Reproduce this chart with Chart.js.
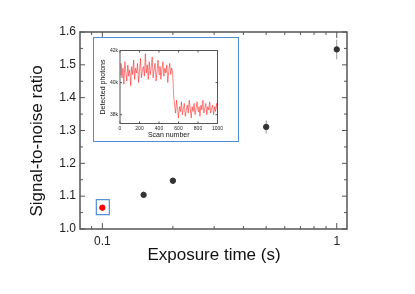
<!DOCTYPE html>
<html>
<head>
<meta charset="utf-8">
<script src="https://cdn.jsdelivr.net/npm/chart.js@4"></script>
<style>
  html, body { margin: 0; padding: 0; background: #fff; }
  #wrap { position: relative; width: 415px; height: 294px; }
  #insetBox {
    position: absolute; left: 93px; top: 37px; width: 146px; height: 105px;
    border: 1.5px solid #4f8ddc; background: #fff; box-sizing: border-box;
  }
  #insetChart { position: absolute; left: -1.5px; top: -1.5px; }
</style>
</head>
<body>
<div id="wrap">
  <canvas id="mainChart" width="415" height="294"></canvas>
  <div id="insetBox"><canvas id="insetChart" width="146" height="105"></canvas></div>
</div>
<script>
// main chart data
const exposures = [0.15, 0.2, 0.5, 1.0];
const snr = [1.104, 1.147, 1.311, 1.547];
const snrErr = [0.01, 0.01, 0.02, 0.03];
const highlightExposure = [0.1];
const highlightSnr = [1.065];
const highlightErr = [0.008];
const yTicks = [1.0, 1.1, 1.2, 1.3, 1.4, 1.5, 1.6];
const xTickLabels = [0.1, 1];

// inset trace (detected photons, in thousands), one value every 10 scans
const scanStep = 10;
const photonsK = [
  40.5, 41.2, 40.3, 40.9, 39.9, 41.3, 40.6, 40.1, 41.1, 40.4,
  40.8, 39.8, 41.0, 40.5, 41.4, 40.2, 40.9, 40.6, 41.2, 40.0,
  40.7, 41.5, 40.3, 40.8, 41.0, 40.4, 41.8, 40.6, 41.1, 40.2,
  41.3, 40.5, 40.9, 41.6, 40.3, 40.8, 41.2, 40.1, 40.7, 41.4,
  40.5, 41.0, 40.2, 40.8, 41.3, 40.4, 40.9, 40.6, 41.1, 40.0,
  40.7, 41.2, 40.5, 40.9, 40.6, 39.2,
  38.6, 38.1, 38.9, 38.3, 37.8, 38.5, 38.2, 38.8, 38.0, 38.4,
  38.7, 37.9, 38.3, 38.6, 38.1, 38.9, 38.4, 37.8, 38.5, 38.2,
  38.7, 38.0, 38.4, 38.8, 38.2, 38.5, 37.9, 38.6, 38.3, 38.9,
  38.1, 38.4, 38.7, 38.0, 38.5, 38.3, 38.8, 38.1, 38.4, 38.6,
  38.0, 38.5, 38.2, 38.7, 38.3
];
const insetXTicks = [0, 200, 400, 600, 800, 1000];
const insetYTicks = [38, 40, 42];

const FONT = "'Liberation Sans', Arial, sans-serif";
const AXIS = '#555';

const xMinorMain = [0.09, 0.2, 0.3, 0.4, 0.5, 0.6, 0.7, 0.8, 0.9];

const mainDecor = {
  id: 'mainDecor',
  beforeDatasetsDraw(chart) {
    const { ctx, scales: { x, y } } = chart;
    ctx.save();
    ctx.strokeStyle = '#999';
    ctx.lineWidth = 1;
    const bars = (xs, ys, es) => xs.forEach((v, i) => {
      const px = x.getPixelForValue(v);
      ctx.beginPath();
      ctx.moveTo(px, y.getPixelForValue(ys[i] - es[i]));
      ctx.lineTo(px, y.getPixelForValue(ys[i] + es[i]));
      ctx.stroke();
    });
    bars(exposures, snr, snrErr);
    bars(highlightExposure, highlightSnr, highlightErr);
    ctx.restore();
  },
  afterDraw(chart) {
    const { ctx, chartArea: a, scales: { x, y } } = chart;
    ctx.save();
    // highlight box around the first point
    const hx = x.getPixelForValue(highlightExposure[0]);
    const hy = y.getPixelForValue(highlightSnr[0]);
    ctx.strokeStyle = '#4f8ddc';
    ctx.lineWidth = 1.2;
    ctx.strokeRect(hx - 6, hy - 8, 13, 15);

    // frame
    ctx.strokeStyle = AXIS;
    ctx.lineWidth = 1.5;
    ctx.strokeRect(a.left, a.top, a.right - a.left, a.bottom - a.top);

    // tick marks, inward on all sides
    ctx.lineWidth = 1;
    for (let v = 1.0; v <= 1.6001; v += 0.05) {
      const py = y.getPixelForValue(v);
      const major = Math.abs(v * 10 - Math.round(v * 10)) < 0.01;
      const len = major ? 5 : 3;
      ctx.beginPath();
      ctx.moveTo(a.left, py); ctx.lineTo(a.left + len, py);
      ctx.moveTo(a.right, py); ctx.lineTo(a.right - len, py);
      ctx.stroke();
    }
    xTickLabels.concat(xMinorMain).forEach(v => {
      const px = x.getPixelForValue(v);
      const len = xTickLabels.includes(v) ? 6 : 3;
      ctx.beginPath();
      ctx.moveTo(px, a.bottom); ctx.lineTo(px, a.bottom - len);
      ctx.moveTo(px, a.top); ctx.lineTo(px, a.top + len);
      ctx.stroke();
    });

    // axis titles
    ctx.fillStyle = '#111';
    ctx.font = '17px ' + FONT;
    ctx.textAlign = 'center';
    ctx.textBaseline = 'middle';
    ctx.fillText('Exposure time (s)', 214, 255);
    ctx.translate(37, 141);
    ctx.rotate(-Math.PI / 2);
    ctx.fillText('Signal-to-noise ratio', 0, 0);
    ctx.restore();
  }
};

new Chart(document.getElementById('mainChart'), {
  type: 'scatter',
  data: {
    datasets: [
      {
        data: exposures.map((v, i) => ({ x: v, y: snr[i] })),
        backgroundColor: '#333', borderColor: '#333',
        pointRadius: 2.7, pointHoverRadius: 2.7
      },
      {
        data: highlightExposure.map((v, i) => ({ x: v, y: highlightSnr[i] })),
        backgroundColor: '#f00', borderColor: '#f00',
        pointRadius: 2.7, pointHoverRadius: 2.7
      }
    ]
  },
  options: {
    responsive: false,
    animation: false,
    events: [],
    layout: { padding: { top: 32, right: 68, left: 0, bottom: 0 } },
    plugins: { legend: { display: false }, tooltip: { enabled: false } },
    scales: {
      x: {
        type: 'logarithmic',
        min: 0.0803, max: 1.106,
        grid: { display: false, drawTicks: false },
        border: { display: false },
        afterBuildTicks: s => { s.ticks = xTickLabels.map(v => ({ value: v })); },
        afterFit: s => { s.height = 65; },
        ticks: {
          color: '#222', padding: 5, maxRotation: 0, autoSkip: false,
          font: { family: FONT, size: 12 },
          callback: v => String(v)
        }
      },
      y: {
        min: 1.0, max: 1.6,
        grid: { display: false, drawTicks: false },
        border: { display: false },
        afterBuildTicks: s => { s.ticks = yTicks.map(v => ({ value: v })); },
        afterFit: s => { s.width = 80; },
        ticks: {
          color: '#222', padding: 4,
          font: { family: FONT, size: 12 },
          callback: v => v.toFixed(1)
        }
      }
    }
  },
  plugins: [mainDecor]
});

const insetDecor = {
  id: 'insetDecor',
  afterDraw(chart) {
    const { ctx, chartArea: a, scales: { x, y } } = chart;
    ctx.save();
    ctx.strokeStyle = AXIS;
    ctx.lineWidth = 1;
    ctx.strokeRect(a.left, a.top, a.right - a.left, a.bottom - a.top);
    insetYTicks.forEach(v => {
      const py = y.getPixelForValue(v);
      ctx.beginPath();
      ctx.moveTo(a.left, py); ctx.lineTo(a.left + 2, py);
      ctx.moveTo(a.right, py); ctx.lineTo(a.right - 2, py);
      ctx.stroke();
    });
    insetXTicks.forEach(v => {
      const px = x.getPixelForValue(v);
      ctx.beginPath();
      ctx.moveTo(px, a.bottom); ctx.lineTo(px, a.bottom - 2);
      ctx.moveTo(px, a.top); ctx.lineTo(px, a.top + 2);
      ctx.stroke();
    });
    ctx.fillStyle = '#111';
    ctx.font = '7px ' + FONT;
    ctx.textAlign = 'center';
    ctx.textBaseline = 'middle';
    ctx.fillText('Scan number', (a.left + a.right) / 2, 98);
    ctx.translate(10, (a.top + a.bottom) / 2);
    ctx.rotate(-Math.PI / 2);
    ctx.fillText('Detected photons', 0, 0);
    ctx.restore();
  }
};

new Chart(document.getElementById('insetChart'), {
  type: 'scatter',
  data: {
    datasets: [{
      data: photonsK.map((v, i) => ({ x: i * scanStep, y: v })),
      showLine: true,
      borderColor: 'rgba(255, 20, 20, 0.6)',
      borderWidth: 0.9,
      pointRadius: 0,
      tension: 0
    }]
  },
  options: {
    responsive: false,
    animation: false,
    events: [],
    layout: { padding: { top: 13.5, right: 21.5, left: 0, bottom: 0 } },
    plugins: { legend: { display: false }, tooltip: { enabled: false } },
    scales: {
      x: {
        type: 'linear', min: 0, max: 1000,
        grid: { display: false, drawTicks: false },
        border: { display: false },
        afterBuildTicks: s => { s.ticks = insetXTicks.map(v => ({ value: v })); },
        afterFit: s => { s.height = 18.5; },
        ticks: {
          color: '#222', padding: 2, maxRotation: 0, autoSkip: false,
          font: { family: FONT, size: 5 }, callback: v => String(v)
        }
      },
      y: {
        min: 37.45, max: 42,
        grid: { display: false, drawTicks: false },
        border: { display: false },
        afterBuildTicks: s => { s.ticks = insetYTicks.map(v => ({ value: v })); },
        afterFit: s => { s.width = 27; },
        ticks: { color: '#222', padding: 2, font: { family: FONT, size: 5 }, callback: v => v + 'k' }
      }
    }
  },
  plugins: [insetDecor]
});
</script>
</body>
</html>
